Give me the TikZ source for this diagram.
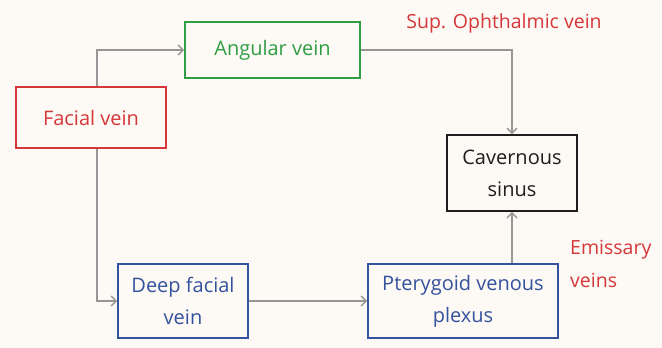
\documentclass[tikz,border=0pt]{standalone}
\usepackage{fontspec}
\setmainfont{Open Sans}
\usetikzlibrary{arrows.meta}
\definecolor{bg}{RGB}{253,249,244}
\definecolor{vred}{RGB}{214,55,58}
\definecolor{vgreen}{RGB}{47,158,68}
\definecolor{vblue}{RGB}{52,82,158}
\definecolor{vblack}{RGB}{30,30,30}
\definecolor{vgray}{RGB}{150,150,150}
\begin{document}
\begin{tikzpicture}[x=1pt,y=-1pt,
  box/.style={draw,line width=1.8pt,inner sep=0pt,align=center,font=\fontsize{20}{32}\selectfont},
  conn/.style={draw=vgray,line width=1.4pt,-{Straight Barb[length=5pt,width=10pt,line width=1.4pt]}},
  lbl/.style={text=vred,font=\fontsize{19.5}{33}\selectfont,align=left,inner sep=0pt}]
\fill[bg] (0,0) rectangle (662,348);
\useasboundingbox (0,0) rectangle (662,348);
\node[box,draw=vred,text=vred,minimum width=150pt,minimum height=61pt] (facial) at (91,117.5) {Facial vein};
\node[box,draw=vgreen,text=vgreen,minimum width=175pt,minimum height=56pt] (angular) at (272.5,50) {Angular vein};
\node[box,draw=vblack,text=vblack,minimum width=130pt,minimum height=76pt] (cav) at (512,173) {Cavernous\\sinus};
\node[box,draw=vblue,text=vblue,minimum width=130pt,minimum height=74pt] (deep) at (183,301) {Deep facial\\vein};
\node[box,draw=vblue,text=vblue,minimum width=190pt,minimum height=74pt] (ptery) at (463,301) {Pterygoid venous\\plexus};
\node[lbl,anchor=center] (sup) at (504,23) {Sup. Ophthalmic vein};
\node[lbl,anchor=north west] (emis) at (570,240) {Emissary\\veins};
\draw[conn] (facial.north -| 97,0) |- (angular.west);
\draw[conn] (angular.east) -| (cav.north);
\draw[conn] (facial.south -| 97,0) |- (deep.west);
\draw[conn] (deep.east) -- (ptery.west);
\draw[conn] (ptery.north -| cav.south) -- (cav.south);
\end{tikzpicture}
\end{document}
